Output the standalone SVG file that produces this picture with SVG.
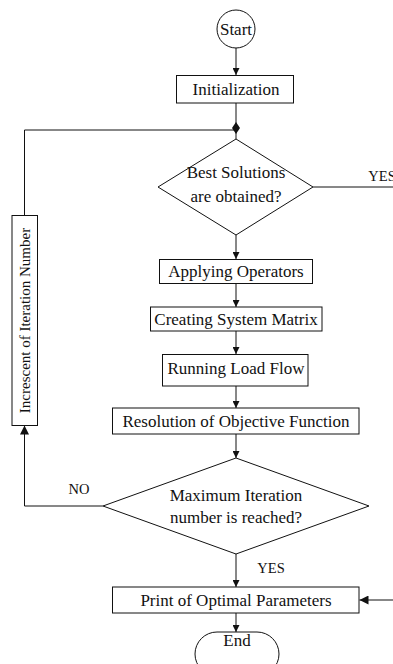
<svg xmlns="http://www.w3.org/2000/svg" width="393" height="664" viewBox="0 0 393 664">
<defs>
<marker id="arr" viewBox="0 0 10 10" refX="10" refY="5" markerWidth="7" markerHeight="7" markerUnits="userSpaceOnUse" orient="auto">
<path d="M0,0 L10,5 L0,10 z" fill="#111"/>
</marker>
<marker id="arrL" viewBox="0 0 10 10" refX="10" refY="5" markerWidth="12" markerHeight="9" markerUnits="userSpaceOnUse" orient="auto">
<path d="M0,0 L10,5 L0,10 z" fill="#111"/>
</marker>
</defs>
<style>
.s{fill:#fff;stroke:#111;stroke-width:1}
.c{fill:none;stroke:#111;stroke-width:1}
.t{font-family:"Liberation Serif","Times New Roman",serif;font-size:17px;fill:#111;text-anchor:middle}
.l{font-family:"Liberation Serif","Times New Roman",serif;font-size:14.5px;fill:#111;text-anchor:middle}
</style>
<rect width="393" height="664" fill="#fff"/>
<g id="connectors">
<line class="c" x1="236" y1="48" x2="236" y2="75" marker-end="url(#arr)"/>
<line class="c" x1="236" y1="103" x2="236" y2="139"/>
<polyline class="c" points="24.5,215.5 24.5,130 236,130"/>
<path d="M236,122 L240,128 L236,134 L232,128 z" fill="#111"/>
<line class="c" x1="313" y1="187" x2="393" y2="187"/>
<line class="c" x1="236" y1="235" x2="236" y2="259" marker-end="url(#arr)"/>
<line class="c" x1="236" y1="284" x2="236" y2="307" marker-end="url(#arr)"/>
<line class="c" x1="236" y1="331" x2="236" y2="354" marker-end="url(#arr)"/>
<line class="c" x1="236" y1="386" x2="236" y2="408" marker-end="url(#arr)"/>
<line class="c" x1="236" y1="434" x2="236" y2="458" marker-end="url(#arr)"/>
<polyline class="c" points="103,506 24.5,506 24.5,425.5" marker-end="url(#arrL)"/>
<line class="c" x1="236" y1="554" x2="236" y2="587" marker-end="url(#arr)"/>
<line class="c" x1="393" y1="600" x2="359.5" y2="600" marker-end="url(#arrL)"/>
<line class="c" x1="236" y1="613" x2="236" y2="632" marker-end="url(#arr)"/>
<text class="l" x="382" y="181">YES</text>
<text class="l" x="79" y="494">NO</text>
<text class="l" x="271" y="573">YES</text>
</g>
<g id="start">
<circle class="s" cx="236" cy="29" r="19"/>
<text class="t" x="236" y="35">Start</text>
</g>
<g id="init">
<rect class="s" x="176.5" y="75.5" width="117" height="27.5"/>
<text class="t" x="236" y="95">Initialization</text>
</g>
<g id="best">
<polygon class="s" points="236,139 313,187 236,235 158,187"/>
<text class="t" x="236" y="178">Best Solutions</text>
<text class="t" x="236" y="202">are obtained?</text>
</g>
<g id="apply">
<rect class="s" x="159.5" y="259.5" width="153" height="24"/>
<text class="t" x="236" y="277">Applying Operators</text>
</g>
<g id="matrix">
<rect class="s" x="150.5" y="307" width="171.5" height="24"/>
<text class="t" x="236" y="325">Creating System Matrix</text>
</g>
<g id="loadflow">
<rect class="s" x="162.5" y="354.5" width="145.5" height="31.5"/>
<text class="t" x="236" y="374">Running Load Flow</text>
</g>
<g id="objective">
<rect class="s" x="112.5" y="408" width="246.5" height="26"/>
<text class="t" x="236" y="427">Resolution of Objective Function</text>
</g>
<g id="maxiter">
<polygon class="s" points="236,458 369,506 236,554 103,506"/>
<text class="t" x="236" y="501">Maximum Iteration</text>
<text class="t" x="236" y="523">number is reached?</text>
</g>
<g id="increment">
<rect class="s" x="12" y="215.5" width="25.5" height="210"/>
<text class="t" style="font-size:15px" transform="translate(30,320.5) rotate(-90)">Increscent of Iteration Number</text>
</g>
<g id="print">
<rect class="s" x="112.5" y="587" width="246.5" height="26"/>
<text class="t" x="236" y="606">Print of Optimal Parameters</text>
</g>
<g id="end">
<rect class="s" x="195" y="632" width="84" height="44" rx="22" ry="22"/>
<text class="t" x="237" y="646">End</text>
</g>
</svg>
